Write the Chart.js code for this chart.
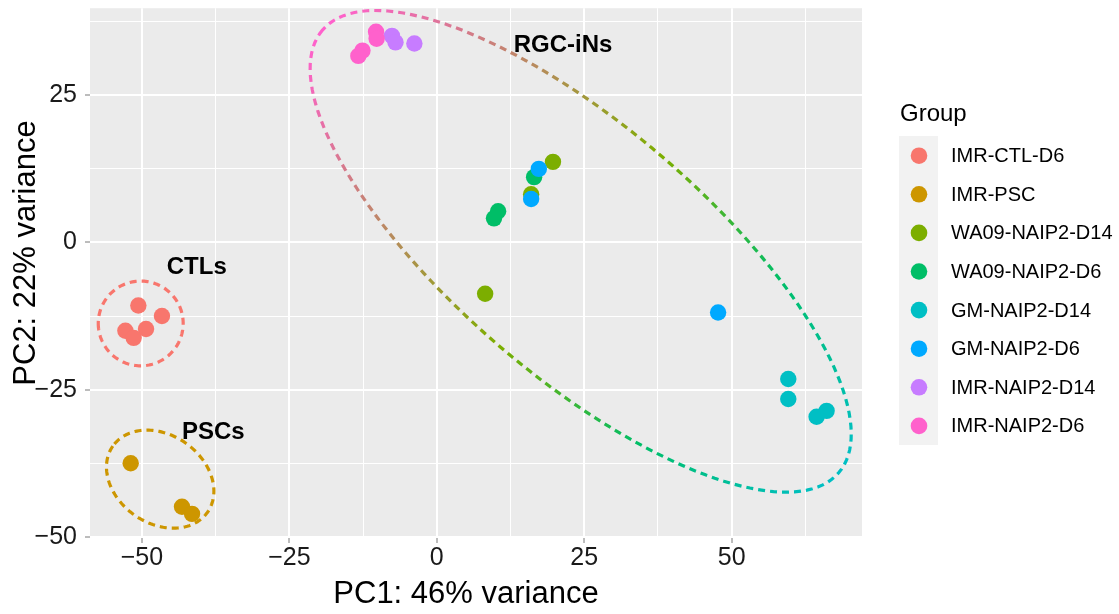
<!DOCTYPE html>
<html lang="en">
<head>
<meta charset="UTF-8">
<title>PCA: PC1 vs PC2 by group</title>
<script src="https://cdn.jsdelivr.net/npm/chart.js"></script>
<style>
  html, body { margin: 0; padding: 0; background: #ffffff; }
</style>
</head>
<body>
<canvas id="pcaChart" width="1119" height="614"></canvas>
<script>
// groups and their sample coordinates [PC1, PC2]
const groups = ['IMR-CTL-D6', 'IMR-PSC', 'WA09-NAIP2-D14', 'WA09-NAIP2-D6',
                'GM-NAIP2-D14', 'GM-NAIP2-D6', 'IMR-NAIP2-D14', 'IMR-NAIP2-D6'];

const imrCtlD6    = [[-50.6, -10.7], [-46.6, -12.5], [-52.8, -15.0], [-49.3, -14.7], [-51.4, -16.2]];
const imrPsc      = [[-51.9, -37.5], [-43.2, -44.9], [-41.5, -46.1]];
const wa09Naip2D14 = [[19.7, 13.7], [16.0, 8.2], [8.2, -8.7]];
const wa09Naip2D6  = [[16.5, 11.1], [10.4, 5.3], [9.7, 4.1]];
const gmNaip2D14  = [[59.6, -23.2], [59.6, -26.6], [66.1, -28.6], [64.4, -29.6]];
const gmNaip2D6   = [[17.3, 12.5], [16.0, 7.4], [47.7, -11.9]];
const imrNaip2D14 = [[-7.6, 35.1], [-7.0, 34.0], [-3.8, 33.8]];
const imrNaip2D6  = [[-10.3, 35.8], [-10.2, 34.6], [-12.6, 32.6], [-13.3, 31.7]];

const groupPoints = [imrCtlD6, imrPsc, wa09Naip2D14, wa09Naip2D6,
                     gmNaip2D14, gmNaip2D6, imrNaip2D14, imrNaip2D6];

// cluster ellipses (data units): centre, semi-axes, rotation in degrees
const clusterNames   = ['CTLs', 'PSCs', 'RGC-iNs'];
const ellipseCenters = [[-50.2, -13.75], [-46.9, -40.2], [24.4, -1.5]];
const ellipseAxes    = [[7.2, 7.2], [9.8, 7.5], [57.7, 21.2]];
const ellipseAngles  = [0, -35, -40.7];
const clusterLabelAt = [[-40.7, -4.3], [-37.9, -32.2], [21.4, 33.5]];

// axis breaks
const xMajor = [-50, -25, 0, 25, 50];
const xBreaks = [-50, -37.5, -25, -12.5, 0, 12.5, 25, 37.5, 50, 62.5];
const yMajor = [-50, -25, 0, 25];
const yBreaks = [-50, -37.5, -25, -12.5, 0, 12.5, 25, 37.5];

// styling
const groupColors = ['#F8766D', '#CD9600', '#7CAE00', '#00BE67',
                     '#00BFC4', '#00A9FF', '#C77CFF', '#FF61CC'];
const ellipseColors = ['#F8766D', '#CD9600', null];
const rgcStops = [[0, '#FF61CC'], [0.5, '#7CAE00'], [0.75, '#00BE67'], [1, '#00BFC4']];
const FONT = '"Liberation Sans", Arial, Helvetica, sans-serif';

const minus = v => (v < 0 ? '\u2212' + Math.abs(v) : String(v));

function ellipsePoint(i, t) {
  const rot = ellipseAngles[i] * Math.PI / 180;
  const dx = ellipseAxes[i][0] * Math.cos(t);
  const dy = ellipseAxes[i][1] * Math.sin(t);
  return [ellipseCenters[i][0] + dx * Math.cos(rot) - dy * Math.sin(rot),
          ellipseCenters[i][1] + dx * Math.sin(rot) + dy * Math.cos(rot)];
}

const extras = {
  id: 'extras',
  beforeDraw(chart) {
    const { ctx, chartArea: a } = chart;
    ctx.save();
    ctx.fillStyle = '#ffffff';
    ctx.fillRect(0, 0, chart.width, chart.height);
    ctx.fillStyle = '#EBEBEB';
    ctx.fillRect(a.left, a.top, a.right - a.left, a.bottom - a.top);
    ctx.restore();
  },
  afterDatasetsDraw(chart) {
    const { ctx } = chart;
    const xs = chart.scales.x, ys = chart.scales.y;
    const px = p => [xs.getPixelForValue(p[0]), ys.getPixelForValue(p[1])];

    // dashed cluster ellipses
    ellipseCenters.forEach((c, i) => {
      ctx.save();
      ctx.beginPath();
      const n = 160;
      for (let k = 0; k <= n; k++) {
        const [x, y] = px(ellipsePoint(i, Math.PI + k / n * 2 * Math.PI));
        if (k === 0) ctx.moveTo(x, y); else ctx.lineTo(x, y);
      }
      if (ellipseColors[i]) {
        ctx.strokeStyle = ellipseColors[i];
      } else {
        const p0 = px(ellipsePoint(i, Math.PI));
        const p1 = px(ellipsePoint(i, 0));
        const g = ctx.createLinearGradient(p0[0], p0[1], p1[0], p1[1]);
        rgcStops.forEach(s => g.addColorStop(s[0], s[1]));
        ctx.strokeStyle = g;
      }
      ctx.lineWidth = 3.2;
      ctx.setLineDash([7, 5]);
      ctx.stroke();
      ctx.restore();
    });

    // cluster names
    ctx.save();
    ctx.font = 'bold 24px ' + FONT;
    ctx.fillStyle = '#000000';
    ctx.textAlign = 'center';
    ctx.textBaseline = 'middle';
    clusterNames.forEach((name, i) => {
      const [x, y] = px(clusterLabelAt[i]);
      ctx.fillText(name, x, y);
    });
    ctx.restore();
  },
  afterDraw(chart) {
    const { ctx } = chart;
    ctx.save();
    ctx.fillStyle = '#000000';

    // axis titles
    ctx.font = '31px ' + FONT;
    ctx.textAlign = 'center';
    ctx.textBaseline = 'alphabetic';
    ctx.fillText('PC1: 46% variance', 466, 603);
    ctx.save();
    ctx.translate(35, 253);
    ctx.rotate(-Math.PI / 2);
    ctx.fillText('PC2: 22% variance', 0, 0);
    ctx.restore();

    // legend
    ctx.textAlign = 'left';
    ctx.font = '24px ' + FONT;
    ctx.fillText('Group', 900, 121);
    ctx.fillStyle = '#F2F2F2';
    ctx.fillRect(899, 136, 39, 309);
    ctx.font = '20px ' + FONT;
    ctx.textBaseline = 'middle';
    groups.forEach((g, i) => {
      const cy = 155.7 + i * 38.6;
      ctx.beginPath();
      ctx.arc(919, cy, 8.3, 0, 2 * Math.PI);
      ctx.fillStyle = groupColors[i];
      ctx.fill();
      ctx.fillStyle = '#000000';
      ctx.fillText(g, 951, cy + 1);
    });
    ctx.restore();
  }
};

function axisGrid(major) {
  return {
    color: '#ffffff',
    lineWidth: c => (c.tick && major.includes(c.tick.value) ? 2 : 1),
    tickColor: c => (c.tick && major.includes(c.tick.value) ? '#7a7a7a' : 'rgba(0,0,0,0)'),
    tickWidth: 1,
    tickLength: 5,
    drawTicks: true
  };
}

new Chart(document.getElementById('pcaChart').getContext('2d'), {
  type: 'scatter',
  data: {
    datasets: groups.map((g, i) => ({
      label: g,
      data: groupPoints[i].map(p => ({ x: p[0], y: p[1] })),
      backgroundColor: groupColors[i],
      borderWidth: 0,
      pointRadius: 8.2,
      pointHoverRadius: 8.2,
      order: groups.length - i
    }))
  },
  options: {
    responsive: false,
    animation: false,
    events: [],
    layout: { padding: { top: 8, right: 257, left: 0, bottom: 0 } },
    plugins: { legend: { display: false }, tooltip: { enabled: false } },
    scales: {
      x: {
        type: 'linear',
        min: -58.8,
        max: 72.1,
        afterBuildTicks: s => { s.ticks = xBreaks.map(v => ({ value: v })); },
        afterFit: s => { s.height = 76; s.paddingLeft = 0; s.paddingRight = 0; },
        border: { display: false },
        grid: axisGrid(xMajor),
        ticks: {
          autoSkip: false,
          maxRotation: 0,
          padding: 0,
          color: '#1a1a1a',
          font: { family: FONT, size: 25 },
          callback: v => (xMajor.includes(v) ? minus(v) : '')
        }
      },
      y: {
        type: 'linear',
        min: -50.2,
        max: 39.8,
        afterBuildTicks: s => { s.ticks = yBreaks.map(v => ({ value: v })); },
        afterFit: s => { s.width = 90; s.paddingTop = 0; s.paddingBottom = 0; },
        border: { display: false },
        grid: axisGrid(yMajor),
        ticks: {
          autoSkip: false,
          padding: 8,
          color: '#1a1a1a',
          font: { family: FONT, size: 25 },
          callback: v => (yMajor.includes(v) ? minus(v) : '')
        }
      }
    }
  },
  plugins: [extras]
});
</script>
</body>
</html>
